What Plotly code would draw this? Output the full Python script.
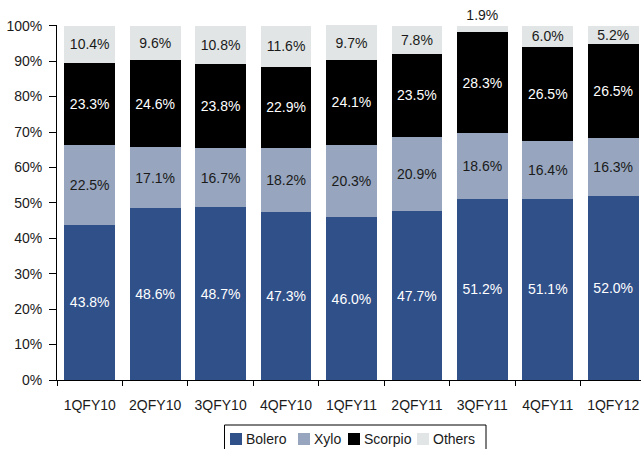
import plotly.graph_objects as go

categories = ["1QFY10", "2QFY10", "3QFY10", "4QFY10", "1QFY11", "2QFY11", "3QFY11", "4QFY11", "1QFY12"]
bolero = [43.8, 48.6, 48.7, 47.3, 46.0, 47.7, 51.2, 51.1, 52.0]
xylo = [22.5, 17.1, 16.7, 18.2, 20.3, 20.9, 18.6, 16.4, 16.3]
scorpio = [23.3, 24.6, 23.8, 22.9, 24.1, 23.5, 28.3, 26.5, 26.5]
others = [10.4, 9.6, 10.8, 11.6, 9.7, 7.8, 1.9, 6.0, 5.2]
y_ticks = [0, 10, 20, 30, 40, 50, 60, 70, 80, 90, 100]
y_tick_labels = [f"{v}%" for v in y_ticks]

FONT = "Liberation Sans, Arial, sans-serif"
FS = 14
W, H = 641, 449
ML, MR, MT, MB = 57, 0, 25, 69

series = [
    ("Bolero", bolero, "#30508A", "#FFFFFF"),
    ("Xylo", xylo, "#97A6BE", "#1A1A1A"),
    ("Scorpio", scorpio, "#000000", "#FFFFFF"),
    ("Others", others, "#E1E5E5", "#1A1A1A"),
]

fig = go.Figure()
for name, vals, color, tcolor in series:
    # a label that cannot fit in its thin segment sits just above the bar
    positions = ["outside" if (name == "Others" and v < 3) else "inside" for v in vals]
    fig.add_trace(go.Bar(
        name=name, x=categories, y=vals,
        marker=dict(color=color, line=dict(width=0)),
        text=[f"{v:.1f}%" for v in vals],
        textposition=positions, insidetextanchor="middle", textangle=0,
        textfont=dict(color=tcolor, size=FS, family=FONT),
        outsidetextfont=dict(color="#1A1A1A", size=FS, family=FONT),
        constraintext="none", cliponaxis=False, showlegend=False,
    ))

# compact legend drawn in pixel positions (paper coordinates)
pw, ph = W - ML - MR, H - MT - MB
def px(x):
    return (x - ML) / pw
def py(y):
    return (H - MB - y) / ph

shapes = [dict(type="rect", xref="paper", yref="paper",
               x0=px(224.5), x1=px(486), y0=py(425), y1=py(455),
               line=dict(color="#000000", width=1), fillcolor="rgba(0,0,0,0)")]
annotations = []
legend_pos = [230, 298, 348, 417]
for (name, _, color, _), lx in zip(series, legend_pos):
    shapes.append(dict(type="rect", xref="paper", yref="paper",
                       x0=px(lx), x1=px(lx + 12), y0=py(433), y1=py(445),
                       line=dict(width=0), fillcolor=color))
    annotations.append(dict(text=name, xref="paper", yref="paper",
                            x=px(lx + 14), y=py(439), xanchor="left", yanchor="middle",
                            showarrow=False, font=dict(size=FS, family=FONT, color="#1A1A1A")))

fig.update_layout(
    barmode="stack", bargap=0.225,
    width=W, height=H,
    margin=dict(l=ML, r=MR, t=MT, b=MB, autoexpand=False),
    paper_bgcolor="white", plot_bgcolor="white",
    font=dict(family=FONT, size=FS, color="#1A1A1A"),
    uniformtext=dict(minsize=FS, mode="show"),
    showlegend=False,
    shapes=shapes, annotations=annotations,
)
fig.update_xaxes(range=[-0.5, 8.425], showline=True, linecolor="#000000", linewidth=1,
                 ticks="outside", tickson="boundaries", ticklen=5, tickcolor="#000000",
                 tickangle=0, automargin=False, ticklabelstandoff=12,
                 showgrid=False, tickfont=dict(size=FS, family=FONT, color="#1A1A1A"))
fig.update_yaxes(range=[0, 100.2], tickvals=y_ticks, ticktext=y_tick_labels,
                 showline=True, linecolor="#000000", linewidth=1, automargin=False,
                 ticks="outside", ticklen=7, tickcolor="#000000", showgrid=False, zeroline=False,
                 ticklabelstandoff=4,
                 tickfont=dict(size=FS, family=FONT, color="#1A1A1A"))

fig.write_html("out.html")
